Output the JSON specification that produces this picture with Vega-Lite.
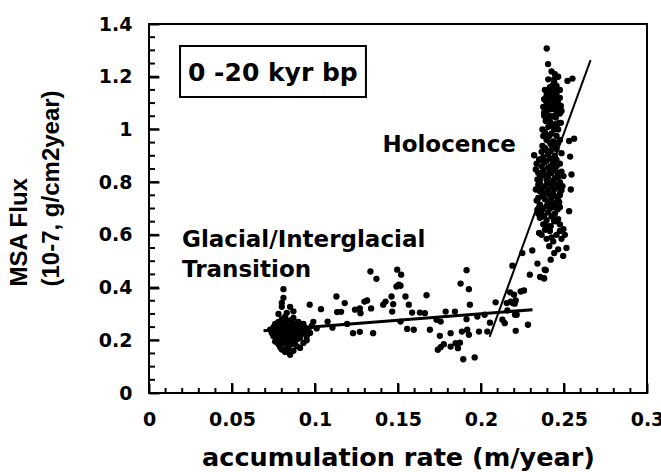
{
  "$schema": "https://vega.github.io/schema/vega-lite/v6.json",
  "width": 498,
  "height": 369,
  "autosize": "none",
  "padding": {"left": 149, "top": 24, "right": 14, "bottom": 79},
  "background": "white",
  "config": {
    "view": {"stroke": "black", "strokeWidth": 2}
  },
  "datasets": {
    "points": [
      {"x":0.081,"y":0.394},{"x":0.081,"y":0.361},{"x":0.080,"y":0.342},{"x":0.080,"y":0.327},{"x":0.085,"y":0.327},{"x":0.083,"y":0.304},{"x":0.078,"y":0.300},{"x":0.087,"y":0.310},
      {"x":0.073,"y":0.240},{"x":0.074,"y":0.228},{"x":0.075,"y":0.250},{"x":0.075,"y":0.215},{"x":0.076,"y":0.235},{"x":0.076,"y":0.262},{"x":0.077,"y":0.222},{"x":0.077,"y":0.245},
      {"x":0.078,"y":0.208},{"x":0.078,"y":0.232},{"x":0.078,"y":0.270},{"x":0.079,"y":0.250},{"x":0.079,"y":0.218},{"x":0.080,"y":0.238},{"x":0.080,"y":0.280},{"x":0.080,"y":0.200},
      {"x":0.081,"y":0.226},{"x":0.081,"y":0.258},{"x":0.082,"y":0.244},{"x":0.082,"y":0.212},{"x":0.082,"y":0.290},{"x":0.083,"y":0.232},{"x":0.083,"y":0.265},{"x":0.083,"y":0.195},
      {"x":0.084,"y":0.250},{"x":0.084,"y":0.220},{"x":0.085,"y":0.240},{"x":0.085,"y":0.275},{"x":0.085,"y":0.205},{"x":0.086,"y":0.228},{"x":0.086,"y":0.255},{"x":0.087,"y":0.215},
      {"x":0.087,"y":0.242},{"x":0.087,"y":0.285},{"x":0.088,"y":0.230},{"x":0.088,"y":0.198},{"x":0.088,"y":0.262},{"x":0.089,"y":0.248},{"x":0.089,"y":0.220},{"x":0.090,"y":0.236},
      {"x":0.090,"y":0.270},{"x":0.091,"y":0.210},{"x":0.091,"y":0.252},{"x":0.092,"y":0.240},{"x":0.092,"y":0.225},{"x":0.093,"y":0.262},{"x":0.094,"y":0.232},{"x":0.094,"y":0.248},
      {"x":0.095,"y":0.215},{"x":0.096,"y":0.240},{"x":0.097,"y":0.228},{"x":0.098,"y":0.255},{"x":0.078,"y":0.185},{"x":0.079,"y":0.175},{"x":0.080,"y":0.165},{"x":0.081,"y":0.190},
      {"x":0.082,"y":0.156},{"x":0.083,"y":0.178},{"x":0.084,"y":0.168},{"x":0.085,"y":0.145},{"x":0.086,"y":0.185},{"x":0.087,"y":0.160},{"x":0.089,"y":0.178},{"x":0.091,"y":0.171},
      {"x":0.093,"y":0.190},{"x":0.095,"y":0.200},{"x":0.076,"y":0.195},{"x":0.0968,"y":0.335},{"x":0.1036,"y":0.318},{"x":0.1076,"y":0.271},{"x":0.1105,"y":0.248},{"x":0.099,"y":0.270},{"x":0.101,"y":0.245},
      {"x":0.0795,"y":0.24},{"x":0.0815,"y":0.235},{"x":0.0835,"y":0.245},{"x":0.0855,"y":0.23},{"x":0.0875,"y":0.25},{"x":0.0805,"y":0.215},{"x":0.0845,"y":0.21},{"x":0.0865,"y":0.268},
      {"x":0.0825,"y":0.275},{"x":0.0895,"y":0.205},{"x":0.0785,"y":0.258},{"x":0.0905,"y":0.26},{"x":0.0835,"y":0.185},{"x":0.0865,"y":0.2},
      {"x":0.1129,"y":0.366},{"x":0.1179,"y":0.341},{"x":0.1133,"y":0.307},{"x":0.1157,"y":0.308},{"x":0.1193,"y":0.262},{"x":0.1229,"y":0.227},{"x":0.1270,"y":0.232},{"x":0.1350,"y":0.227},
      {"x":0.1241,"y":0.316},{"x":0.1270,"y":0.321},{"x":0.1274,"y":0.303},{"x":0.1298,"y":0.347},{"x":0.1314,"y":0.351},{"x":0.1338,"y":0.321},{"x":0.1334,"y":0.461},{"x":0.1370,"y":0.433},
      {"x":0.1411,"y":0.335},{"x":0.1425,"y":0.347},{"x":0.1461,"y":0.366},{"x":0.1465,"y":0.309},{"x":0.1471,"y":0.337},{"x":0.1491,"y":0.404},{"x":0.1505,"y":0.411},{"x":0.1515,"y":0.407},
      {"x":0.1495,"y":0.468},{"x":0.1519,"y":0.449},{"x":0.1545,"y":0.366},{"x":0.1565,"y":0.335},{"x":0.1515,"y":0.271},{"x":0.1555,"y":0.243},{"x":0.1595,"y":0.240},{"x":0.1585,"y":0.305},
      {"x":0.1632,"y":0.305},{"x":0.1662,"y":0.303},{"x":0.1672,"y":0.371},{"x":0.1692,"y":0.240},{"x":0.1732,"y":0.278},{"x":0.1757,"y":0.271},{"x":0.1752,"y":0.217},{"x":0.1776,"y":0.185},
      {"x":0.1757,"y":0.174},{"x":0.1740,"y":0.164},{"x":0.1787,"y":0.309},{"x":0.1843,"y":0.309},{"x":0.1817,"y":0.227},{"x":0.1847,"y":0.189},{"x":0.1817,"y":0.176},{"x":0.1873,"y":0.191},
      {"x":0.1861,"y":0.170},{"x":0.1877,"y":0.415},{"x":0.1893,"y":0.128},{"x":0.1913,"y":0.466},{"x":0.1927,"y":0.394},{"x":0.1913,"y":0.280},{"x":0.1917,"y":0.240},{"x":0.1927,"y":0.221},
      {"x":0.1885,"y":0.233},{"x":0.1933,"y":0.335},{"x":0.1962,"y":0.135},{"x":0.1988,"y":0.233},{"x":0.1978,"y":0.290},{"x":0.2038,"y":0.233},{"x":0.2054,"y":0.267},{"x":0.2088,"y":0.344},
      {"x":0.2022,"y":0.297},{"x":0.2129,"y":0.278},{"x":0.2143,"y":0.265},{"x":0.2175,"y":0.382},{"x":0.2199,"y":0.373},{"x":0.2191,"y":0.341},{"x":0.2209,"y":0.351},{"x":0.2155,"y":0.341},
      {"x":0.2159,"y":0.313},{"x":0.2205,"y":0.297},{"x":0.2209,"y":0.236},{"x":0.2189,"y":0.483},{"x":0.2239,"y":0.385},{"x":0.2259,"y":0.389},{"x":0.2179,"y":0.347},{"x":0.2203,"y":0.339},
      {"x":0.2215,"y":0.297},{"x":0.2283,"y":0.259},{"x":0.2249,"y":0.531},{"x":0.2309,"y":0.541},{"x":0.2340,"y":0.491},{"x":0.2390,"y":0.466},{"x":0.2294,"y":0.449},{"x":0.2356,"y":0.440},
      {"x":0.2380,"y":0.434},{"x":0.2350,"y":0.607},{"x":0.2390,"y":0.620},{"x":0.2420,"y":0.633},{"x":0.2441,"y":0.652},{"x":0.2411,"y":0.557},{"x":0.2441,"y":0.531},{"x":0.2420,"y":0.506},
      {"x":0.2396,"y":1.307},{"x":0.2404,"y":1.248},{"x":0.2441,"y":1.191},{"x":0.2431,"y":1.153},{"x":0.2521,"y":1.184},{"x":0.2551,"y":1.193},{"x":0.2481,"y":1.025},{"x":0.2531,"y":0.956},
      {"x":0.2561,"y":0.965},{"x":0.2537,"y":0.897},{"x":0.2545,"y":0.829},{"x":0.2541,"y":0.772},{"x":0.2497,"y":0.823},{"x":0.2491,"y":0.785},{"x":0.2477,"y":0.760},{"x":0.2471,"y":0.724},
      {"x":0.2531,"y":0.690},{"x":0.2497,"y":0.622},{"x":0.2451,"y":0.652},{"x":0.2384,"y":0.468},{"x":0.2380,"y":0.436},
      {"x":0.2457,"y":1.146},{"x":0.2461,"y":1.121},{"x":0.2451,"y":1.102},{"x":0.2420,"y":1.115},{"x":0.2390,"y":1.108},{"x":0.2400,"y":1.089},{"x":0.2441,"y":1.077},{"x":0.2481,"y":1.089},
      {"x":0.2380,"y":1.064},{"x":0.2411,"y":1.052},{"x":0.2451,"y":1.045},{"x":0.2390,"y":1.032},{"x":0.2441,"y":1.178},{"x":0.2411,"y":1.146},{"x":0.2380,"y":1.115},{"x":0.2441,"y":1.109},
      {"x":0.2461,"y":1.077},{"x":0.2420,"y":1.077},{"x":0.2380,"y":1.052},{"x":0.2471,"y":1.025},{"x":0.2370,"y":1.000},{"x":0.2441,"y":1.000},{"x":0.2411,"y":0.975},{"x":0.2461,"y":0.950},
      {"x":0.2370,"y":0.937},{"x":0.2420,"y":0.918},{"x":0.2320,"y":0.902},{"x":0.2350,"y":0.886},{"x":0.2380,"y":0.874},{"x":0.2420,"y":0.861},{"x":0.2461,"y":0.836},{"x":0.2330,"y":0.848},
      {"x":0.2340,"y":0.810},{"x":0.2400,"y":0.798},{"x":0.2441,"y":0.772},{"x":0.2330,"y":0.772},{"x":0.2370,"y":0.747},{"x":0.2420,"y":0.721},{"x":0.2461,"y":0.696},{"x":0.2340,"y":0.696},
      {"x":0.2380,"y":0.671},{"x":0.2441,"y":0.658},{"x":0.2400,"y":0.633},
      {"x":0.2425,"y":1.22},{"x":0.2445,"y":1.21},{"x":0.2465,"y":1.2},{"x":0.2435,"y":1.17},{"x":0.2455,"y":1.165},{"x":0.2475,"y":1.15},{"x":0.2415,"y":1.16},
      {"x":0.2395,"y":1.13},{"x":0.2435,"y":1.13},{"x":0.2475,"y":1.12},{"x":0.2405,"y":1.1},{"x":0.2465,"y":1.1},{"x":0.2425,"y":1.09},{"x":0.2455,"y":1.06},{"x":0.2395,"y":1.07},
      {"x":0.2435,"y":1.05},{"x":0.2475,"y":1.06},{"x":0.2415,"y":1.03},{"x":0.2445,"y":1.02},{"x":0.2405,"y":1.01},{"x":0.2465,"y":1.0},{"x":0.2385,"y":0.99},{"x":0.2425,"y":0.985},{"x":0.2455,"y":0.975},
      {"x":0.2395,"y":0.96},{"x":0.2435,"y":0.955},{"x":0.2475,"y":0.96},{"x":0.2385,"y":0.93},{"x":0.2425,"y":0.94},{"x":0.2455,"y":0.925},{"x":0.2365,"y":0.915},{"x":0.2405,"y":0.905},{"x":0.2445,"y":0.9},{"x":0.2485,"y":0.91},
      {"x":0.2355,"y":0.885},{"x":0.2395,"y":0.88},{"x":0.2435,"y":0.875},{"x":0.2475,"y":0.87},{"x":0.2365,"y":0.86},{"x":0.2405,"y":0.855},{"x":0.2445,"y":0.85},{"x":0.2345,"y":0.835},
      {"x":0.2385,"y":0.83},{"x":0.2425,"y":0.835},{"x":0.2465,"y":0.82},{"x":0.2355,"y":0.815},{"x":0.2395,"y":0.81},{"x":0.2435,"y":0.805},{"x":0.2475,"y":0.8},
      {"x":0.2345,"y":0.79},{"x":0.2385,"y":0.785},{"x":0.2425,"y":0.785},{"x":0.2465,"y":0.78},{"x":0.2355,"y":0.765},{"x":0.2395,"y":0.76},{"x":0.2435,"y":0.755},{"x":0.2475,"y":0.75},
      {"x":0.2345,"y":0.74},{"x":0.2385,"y":0.735},{"x":0.2425,"y":0.74},{"x":0.2465,"y":0.73},{"x":0.2355,"y":0.715},{"x":0.2395,"y":0.71},{"x":0.2435,"y":0.705},{"x":0.2475,"y":0.705},
      {"x":0.2365,"y":0.69},{"x":0.2405,"y":0.685},{"x":0.2445,"y":0.68},
      {"x":0.2355,"y":0.665},{"x":0.2395,"y":0.655},{"x":0.2465,"y":0.66},{"x":0.2375,"y":0.64},{"x":0.2415,"y":0.615},{"x":0.2455,"y":0.6},{"x":0.2365,"y":0.6},{"x":0.2395,"y":0.585},
      {"x":0.2435,"y":0.575},{"x":0.2485,"y":0.585},{"x":0.2475,"y":0.64},{"x":0.2505,"y":0.6},{"x":0.2515,"y":0.55},{"x":0.2465,"y":0.545},{"x":0.2495,"y":0.52},
      {"x":0.2405,"y":1.19},{"x":0.2385,"y":1.15},{"x":0.2455,"y":1.135},{"x":0.2415,"y":1.125},{"x":0.2445,"y":1.095},{"x":0.2375,"y":1.085},{"x":0.2485,"y":1.07},{"x":0.2395,"y":1.045},
      {"x":0.2425,"y":1.015},{"x":0.2455,"y":1.01},{"x":0.2375,"y":0.975},{"x":0.2415,"y":0.95},{"x":0.2445,"y":0.935},{"x":0.2395,"y":0.92},{"x":0.2375,"y":0.895},{"x":0.2415,"y":0.89},
      {"x":0.2455,"y":0.885},{"x":0.2335,"y":0.87},{"x":0.2375,"y":0.845},{"x":0.2415,"y":0.84},{"x":0.2455,"y":0.86},{"x":0.2365,"y":0.825},{"x":0.2405,"y":0.82},{"x":0.2445,"y":0.815},
      {"x":0.2485,"y":0.84},{"x":0.2355,"y":0.8},{"x":0.2415,"y":0.795},{"x":0.2455,"y":0.79},{"x":0.2365,"y":0.775},{"x":0.2405,"y":0.77},{"x":0.2485,"y":0.77},{"x":0.2375,"y":0.755},
      {"x":0.2415,"y":0.75},{"x":0.2455,"y":0.745},{"x":0.2335,"y":0.73},{"x":0.2405,"y":0.725},{"x":0.2445,"y":0.72},{"x":0.2375,"y":0.7},{"x":0.2415,"y":0.7},{"x":0.2455,"y":0.71},
      {"x":0.2345,"y":0.68},{"x":0.2425,"y":0.67},{"x":0.2385,"y":0.62},{"x":0.2425,"y":0.59},{"x":0.2475,"y":0.615}
    ],
    "fits": [
      {"fit":"glacial","x":0.069,"y":0.236},{"fit":"glacial","x":0.231,"y":0.316},
      {"fit":"holocene","x":0.2052,"y":0.213},{"fit":"holocene","x":0.266,"y":1.263}
    ],
    "labels": [
      {"label":"Holocence","x":0.1406,"y":0.914},
      {"label":"Glacial/Interglacial","x":0.0199,"y":0.554},
      {"label":"Transition","x":0.0199,"y":0.441}
    ],
    "box": [{"label":"0 -20 kyr bp","x":0.0187,"x2":0.1307,"y":1.317,"y2":1.123,"tx":0.0235,"ty":1.184}],
    "xticks": [
      {"v":0,"kind":"major"},{"v":0.01,"kind":"minor"},{"v":0.02,"kind":"minor"},{"v":0.03,"kind":"minor"},{"v":0.04,"kind":"minor"},
      {"v":0.05,"kind":"major"},{"v":0.06,"kind":"minor"},{"v":0.07,"kind":"minor"},{"v":0.08,"kind":"minor"},{"v":0.09,"kind":"minor"},
      {"v":0.1,"kind":"major"},{"v":0.11,"kind":"minor"},{"v":0.12,"kind":"minor"},{"v":0.13,"kind":"minor"},{"v":0.14,"kind":"minor"},
      {"v":0.15,"kind":"major"},{"v":0.16,"kind":"minor"},{"v":0.17,"kind":"minor"},{"v":0.18,"kind":"minor"},{"v":0.19,"kind":"minor"},
      {"v":0.2,"kind":"major"},{"v":0.21,"kind":"minor"},{"v":0.22,"kind":"minor"},{"v":0.23,"kind":"minor"},{"v":0.24,"kind":"minor"},
      {"v":0.25,"kind":"major"},{"v":0.26,"kind":"minor"},{"v":0.27,"kind":"minor"},{"v":0.28,"kind":"minor"},{"v":0.29,"kind":"minor"},
      {"v":0.3,"kind":"major"}
    ],
    "yticks": [
      {"v":0,"kind":"major"},{"v":0.05,"kind":"minor"},{"v":0.1,"kind":"minor"},{"v":0.15,"kind":"minor"},
      {"v":0.2,"kind":"major"},{"v":0.25,"kind":"minor"},{"v":0.3,"kind":"minor"},{"v":0.35,"kind":"minor"},
      {"v":0.4,"kind":"major"},{"v":0.45,"kind":"minor"},{"v":0.5,"kind":"minor"},{"v":0.55,"kind":"minor"},
      {"v":0.6,"kind":"major"},{"v":0.65,"kind":"minor"},{"v":0.7,"kind":"minor"},{"v":0.75,"kind":"minor"},
      {"v":0.8,"kind":"major"},{"v":0.85,"kind":"minor"},{"v":0.9,"kind":"minor"},{"v":0.95,"kind":"minor"},
      {"v":1,"kind":"major"},{"v":1.05,"kind":"minor"},{"v":1.1,"kind":"minor"},{"v":1.15,"kind":"minor"},
      {"v":1.2,"kind":"major"},{"v":1.25,"kind":"minor"},{"v":1.3,"kind":"minor"},{"v":1.35,"kind":"minor"},
      {"v":1.4,"kind":"major"}
    ]
  },
  "layer": [
    {
      "data": {"name": "points"},
      "mark": {"type": "circle", "size": 40, "color": "black", "opacity": 1},
      "encoding": {
        "x": {
          "field": "x", "type": "quantitative",
          "scale": {"domain": [0, 0.3], "nice": false, "zero": false},
          "axis": {
            "orient": "bottom", "offset": -10, "grid": false, "domain": false,
            "values": [0, 0.05, 0.1, 0.15, 0.2, 0.25, 0.3],
            "labelExpr": "'' + datum.value",
            "ticks": true, "tickSize": 10, "tickColor": "black", "tickWidth": 2,
            "labelColor": "black", "labelFont": "DejaVu Sans", "labelFontSize": 19, "labelFontWeight": "bold",
            "labelPadding": 32, "labelBaseline": "alphabetic", "labelFlush": false, "labelOverlap": false,
            "title": "accumulation rate (m/year)", "titleColor": "black",
            "titleFont": "DejaVu Sans", "titleFontSize": 25.5, "titleFontWeight": "bold",
            "titleBaseline": "alphabetic", "titleY": 82
          }
        },
        "y": {
          "field": "y", "type": "quantitative",
          "scale": {"domain": [0, 1.4], "nice": false, "zero": false},
          "axis": {
            "orient": "left", "offset": -10, "grid": false, "domain": false,
            "values": [0, 0.2, 0.4, 0.6, 0.8, 1, 1.2, 1.4],
            "labelExpr": "'' + datum.value",
            "ticks": true, "tickSize": 10, "tickColor": "black", "tickWidth": 2,
            "labelColor": "black", "labelFont": "DejaVu Sans", "labelFontSize": 19, "labelFontWeight": "bold",
            "labelPadding": 17, "labelFlush": false, "labelOverlap": false,
            "title": ["MSA Flux", "(10-7, g/cm2year)"], "titleColor": "black",
            "titleFont": "Liberation Sans", "titleFontSize": 24, "titleFontWeight": "bold",
            "titleLineHeight": 32, "titleAngle": 270, "titleAlign": "left", "titleBaseline": "top",
            "titleX": -152, "titleY": 262
          }
        }
      }
    },
    {
      "data": {"name": "xticks"},
      "transform": [{"filter": "datum.kind === 'major'"}],
      "mark": {"type": "tick", "orient": "vertical", "color": "black", "opacity": 1, "size": 10, "thickness": 2},
      "encoding": {"x": {"field": "v", "type": "quantitative"}, "y": {"datum": 0.019, "type": "quantitative"}}
    },
    {
      "data": {"name": "xticks"},
      "transform": [{"filter": "datum.kind === 'minor'"}],
      "mark": {"type": "tick", "orient": "vertical", "color": "black", "opacity": 1, "size": 5, "thickness": 2},
      "encoding": {"x": {"field": "v", "type": "quantitative"}, "y": {"datum": 0.0095, "type": "quantitative"}}
    },
    {
      "data": {"name": "yticks"},
      "transform": [{"filter": "datum.kind === 'major'"}],
      "mark": {"type": "tick", "orient": "horizontal", "color": "black", "opacity": 1, "size": 10, "thickness": 2},
      "encoding": {"y": {"field": "v", "type": "quantitative"}, "x": {"datum": 0.003, "type": "quantitative"}}
    },
    {
      "data": {"name": "yticks"},
      "transform": [{"filter": "datum.kind === 'minor'"}],
      "mark": {"type": "tick", "orient": "horizontal", "color": "black", "opacity": 1, "size": 6, "thickness": 2},
      "encoding": {"y": {"field": "v", "type": "quantitative"}, "x": {"datum": 0.0018, "type": "quantitative"}}
    },
    {
      "data": {"name": "fits"},
      "transform": [{"filter": "datum.fit === 'glacial'"}],
      "mark": {"type": "line", "color": "black", "strokeWidth": 3},
      "encoding": {"x": {"field": "x", "type": "quantitative"}, "y": {"field": "y", "type": "quantitative"}}
    },
    {
      "data": {"name": "fits"},
      "transform": [{"filter": "datum.fit === 'holocene'"}],
      "mark": {"type": "line", "color": "black", "strokeWidth": 2},
      "encoding": {"x": {"field": "x", "type": "quantitative"}, "y": {"field": "y", "type": "quantitative"}}
    },
    {
      "data": {"name": "labels"},
      "mark": {"type": "text", "align": "left", "baseline": "alphabetic", "font": "DejaVu Sans", "fontSize": 23, "fontWeight": "bold", "color": "black"},
      "encoding": {"x": {"field": "x", "type": "quantitative"}, "y": {"field": "y", "type": "quantitative"}, "text": {"field": "label"}}
    },
    {
      "data": {"name": "box"},
      "mark": {"type": "rect", "fill": null, "fillOpacity": 0, "stroke": "black", "strokeWidth": 2},
      "encoding": {"x": {"field": "x", "type": "quantitative"}, "x2": {"field": "x2"}, "y": {"field": "y", "type": "quantitative"}, "y2": {"field": "y2"}}
    },
    {
      "data": {"name": "box"},
      "mark": {"type": "text", "align": "left", "baseline": "alphabetic", "font": "DejaVu Sans", "fontSize": 25, "fontWeight": "bold", "color": "black"},
      "encoding": {"x": {"field": "tx", "type": "quantitative"}, "y": {"field": "ty", "type": "quantitative"}, "text": {"field": "label"}}
    }
  ]
}
